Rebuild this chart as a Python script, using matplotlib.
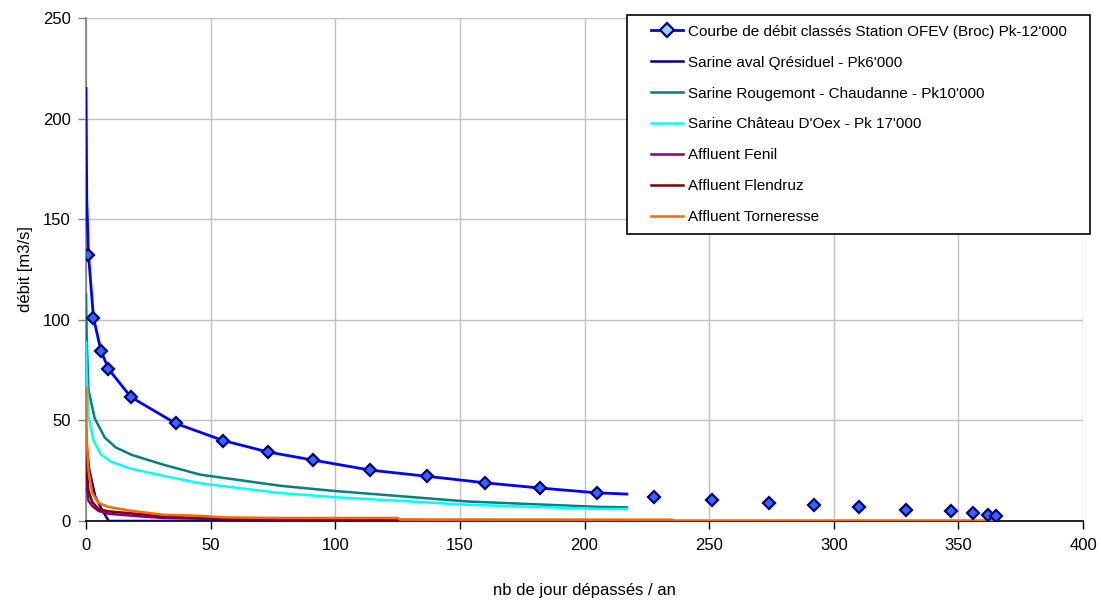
import matplotlib
matplotlib.use("Agg")
import matplotlib.pyplot as plt
from matplotlib.lines import Line2D
from matplotlib.patches import Rectangle

plt.rcParams['font.family'] = ['Liberation Sans', 'DejaVu Sans']

# Débits classés OFEV (Broc) : points de la courbe (jours dépassés / débit)
days_ofev = [1, 3, 6, 9, 18, 36, 55, 73, 91, 114, 137, 160, 182, 205,
             228, 251, 274, 292, 310, 329, 347, 356, 362, 365]
q_ofev = [132.2, 101.0, 84.6, 75.6, 61.6, 48.5, 40.0, 34.3, 30.3, 25.3,
          22.2, 19.0, 16.4, 14.0, 11.9, 10.4, 8.8, 8.1, 6.8, 5.5, 4.8,
          4.1, 3.1, 2.5]

# Courbe journalière OFEV (jusqu'à 217 jours)
days_ofev_line = [0, 0.3, 1, 3, 6, 9, 18, 36, 55, 73, 91, 114, 137, 160,
                  182, 205, 217]
q_ofev_line = [215, 160, 132.2, 101.0, 84.6, 75.6, 61.6, 48.5, 40.0, 34.3,
               30.3, 25.3, 22.2, 19.0, 16.4, 14.0, 13.4]

# Sarine aval Qrésiduel - Pk6'000
days_aval = [0, 1.3, 3.7, 6.4, 9.1, 126]
q_aval = [40, 25.5, 12.2, 5.6, 0, 0]

# Sarine Rougemont - Chaudanne - Pk10'000
days_rouge = [0, 0.3, 1, 3.5, 7.5, 12, 18.5, 31, 46, 78, 99, 153, 206, 217]
q_rouge = [113, 90, 65, 51, 41.5, 36.5, 32.8, 28, 23, 17.5, 15, 9.7, 7, 6.8]

# Sarine Château D'Oex - Pk 17'000
days_oex = [0, 0.3, 1, 3, 6, 10, 18, 31, 46, 78, 99, 153, 206, 217]
q_oex = [89, 70, 52, 40, 33, 29.5, 26, 22.5, 18.7, 13.9, 11.9, 8.1, 6.0, 6.0]

# Affluents
days_fenil = [0, 0.5, 1, 2.5, 5, 9, 22, 31, 55, 100, 185]
q_fenil = [30, 15, 10, 7.5, 5, 3.6, 2.3, 1.5, 0.9, 0.5, 0.3]

days_flendruz = [0, 0.5, 1, 2.5, 5, 9, 22, 31, 55, 80, 125, 235]
q_flendruz = [45, 22, 15, 9.5, 6, 4.8, 3.4, 2.2, 1.1, 0.9, 0.5, 0.4]

days_torn = [0, 0.3, 1, 2.5, 5, 9, 18, 31, 45, 55, 79, 125, 126, 235, 236, 365]
q_torn = [66, 40, 25, 14, 9, 7, 5.1, 3.1, 2.6, 1.8, 1.5, 1.5, 0.65, 0.65,
          0.25, 0.25]

labels = [
    "Courbe de débit classés Station OFEV (Broc) Pk-12'000",
    "Sarine aval Qrésiduel - Pk6'000",
    "Sarine Rougemont - Chaudanne - Pk10'000",
    "Sarine Château D'Oex - Pk 17'000",
    "Affluent Fenil",
    "Affluent Flendruz",
    "Affluent Torneresse",
]

xticks = [0, 50, 100, 150, 200, 250, 300, 350, 400]
yticks = [0, 50, 100, 150, 200, 250]

W, H = 1101, 604
fig = plt.figure(figsize=(W / 100, H / 100), dpi=100)
ax = fig.add_axes([86 / W, 1 - 521 / H, 997 / W, 503 / H])

lw = 1.8
ax.plot(days_aval, q_aval, color='#000080', lw=lw, zorder=3)
ax.plot(days_rouge, q_rouge, color='#008080', lw=lw, zorder=3)
ax.plot(days_oex, q_oex, color='#00ffff', lw=lw, zorder=3)
ax.plot(days_fenil, q_fenil, color='#800080', lw=lw, zorder=3)
ax.plot(days_flendruz, q_flendruz, color='#800000', lw=lw, zorder=3)
ax.plot(days_torn, q_torn, color='#ff6600', lw=lw, zorder=3)
ax.plot(days_ofev_line, q_ofev_line, color='#0000ff', lw=2.0, zorder=4)
ax.plot(days_ofev, q_ofev, linestyle='none', marker='D', markersize=6,
        markerfacecolor='#3366ff', markeredgecolor='#000080',
        markeredgewidth=1.6, zorder=5)

ax.set_xlim(0, 400)
ax.set_ylim(0, 250)
ax.set_xticks(xticks)
ax.set_yticks(yticks)
ax.grid(True, color='#c0c0c0', lw=1.0)
ax.set_axisbelow(True)
for s in ('top', 'right'):
    ax.spines[s].set_visible(False)
ax.spines['left'].set_color('#808080')
ax.spines['left'].set_linewidth(1.2)
ax.spines['bottom'].set_color('black')
ax.spines['bottom'].set_linewidth(1.2)
ax.tick_params(axis='both', direction='out', length=6, width=1.0,
               labelsize=12, pad=6)
ax.tick_params(axis='y', color='#808080', pad=5)

ax.set_xlabel("nb de jour dépassés / an", fontsize=12, labelpad=22)
ax.set_ylabel("débit [m3/s]", fontsize=12, labelpad=7)

# Légende : cadre dessiné à part, entrées centrées dedans
box_l, box_t, box_r, box_b = 627, 15, 1090, 234
fig.patches.append(Rectangle((box_l / W, 1 - box_b / H),
                             (box_r - box_l) / W, (box_b - box_t) / H,
                             transform=fig.transFigure, facecolor='white',
                             edgecolor='black', lw=1.2, zorder=5))
handles = [
    Line2D([], [], color='#0000ff', lw=2.0, marker='D', markersize=7,
           markerfacecolor='#99ccff', markeredgecolor='#000080',
           markeredgewidth=1.6),
    Line2D([], [], color='#000080', lw=lw),
    Line2D([], [], color='#008080', lw=lw),
    Line2D([], [], color='#00ffff', lw=lw),
    Line2D([], [], color='#800080', lw=lw),
    Line2D([], [], color='#800000', lw=lw),
    Line2D([], [], color='#ff6600', lw=lw),
]
fs_leg = 11
px = fs_leg * 100 / 72
leg = fig.legend(handles, labels, loc='center',
                 bbox_to_anchor=((box_l + box_r) / 2 / W,
                                 1 - (box_t + box_b) / 2 / H),
                 fontsize=fs_leg, frameon=False,
                 handlelength=32 / px, handletextpad=5 / px,
                 labelspacing=1.11, borderpad=0, borderaxespad=0)
leg.set_zorder(6)

fig.savefig("out.png", dpi=100)
